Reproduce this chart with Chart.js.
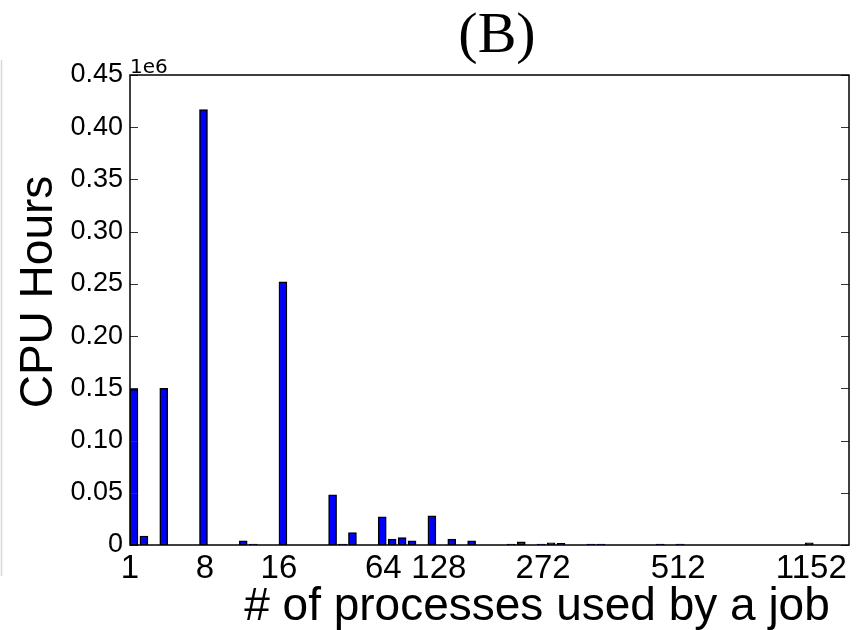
<!DOCTYPE html>
<html>
<head>
<meta charset="utf-8">
<script src="https://cdn.jsdelivr.net/npm/chart.js@4.4.0/dist/chart.umd.min.js"></script>
<style>
  html, body { margin: 0; padding: 0; background: #fff; }
  #wrap { width: 864px; height: 630px; position: relative; }
</style>
</head>
<body>
<div id="wrap"><canvas id="cpu-chart" width="864" height="630"></canvas></div>
<script>
// slot index of each bar along the x axis (one slot per distinct process count)
const barSlots = [0, 1, 3, 7, 11, 12, 15, 20, 21, 22, 25, 26, 27, 28, 30, 32, 34, 38, 39, 41, 42, 43, 46, 47, 53, 55, 68];
// CPU hours, in units of 1e6
const cpuHours = [0.149, 0.0086, 0.150, 0.417, 0.004, 0.001, 0.252, 0.048, 0.001, 0.012, 0.027, 0.0057, 0.007, 0.004, 0.028, 0.0057, 0.004, 0.001, 0.003, 0.001, 0.002, 0.0015, 0.0008, 0.0008, 0.0008, 0.0008, 0.002];

// x tick labels and where they sit (in slot units)
const xTickLabels = ['1', '8', '16', '64', '128', '272', '512', '1152'];
const xTickSlots = [0, 7.55, 15.0, 25.5, 31.1, 41.6, 55.2, 68.6];

const yMax = 0.45e6;
const yStep = 0.05e6;

// frame, inward tick marks and the free-placed texts
const framePlugin = {
    id: 'frame',
    afterDraw(chart) {
        const { ctx, chartArea: a, scales } = chart;
        ctx.save();

        // thin grey edge on the far left of the figure
        ctx.strokeStyle = '#d8d8d8';
        ctx.lineWidth = 1.5;
        ctx.beginPath();
        ctx.moveTo(1.5, 60);
        ctx.lineTo(1.5, 576);
        ctx.stroke();

        // y tick marks, pointing inside on both sides
        ctx.strokeStyle = '#333';
        ctx.lineWidth = 1;
        scales.y.ticks.forEach(t => {
            const py = Math.round(scales.y.getPixelForValue(t.value)) + 0.5;
            ctx.beginPath();
            ctx.moveTo(a.left, py);
            ctx.lineTo(a.left + 8, py);
            ctx.moveTo(a.right, py);
            ctx.lineTo(a.right - 8, py);
            ctx.stroke();
        });

        // box round the plot
        ctx.strokeStyle = '#000';
        ctx.lineWidth = 1.5;
        ctx.strokeRect(a.left, a.top, a.right - a.left, a.bottom - a.top);

        // offset text
        ctx.fillStyle = '#000';
        ctx.font = '20px "DejaVu Sans"';
        ctx.textAlign = 'left';
        ctx.textBaseline = 'alphabetic';
        ctx.fillText('1e6', a.left, a.top - 2);

        // title
        ctx.font = '58px "Liberation Serif"';
        ctx.textAlign = 'center';
        ctx.fillText('(B)', 497, 52);

        // x axis title
        ctx.font = '46px "Liberation Sans"';
        ctx.fillText('# of processes used by a job', 537, 620);

        // y axis title
        ctx.translate(52, 292);
        ctx.rotate(-Math.PI / 2);
        ctx.font = '46px "Liberation Sans"';
        ctx.fillText('CPU Hours', 0, 0);

        ctx.restore();
    }
};

const ctx = document.getElementById('cpu-chart').getContext('2d');
new Chart(ctx, {
    type: 'bar',
    data: {
        datasets: [{
            data: barSlots.map((s, i) => ({ x: s + 0.4, y: cpuHours[i] * 1e6 })),
            backgroundColor: '#0000ff',
            borderColor: '#000',
            borderWidth: 1.5,
            borderSkipped: false,
            barThickness: 8
        }]
    },
    options: {
        responsive: false,
        animation: false,
        layout: { padding: { top: 75, right: 15, left: 0, bottom: 0 } },
        plugins: {
            legend: { display: false },
            tooltip: { enabled: false }
        },
        scales: {
            x: {
                type: 'linear',
                min: 0,
                max: 72.4,
                offset: false,
                grid: { display: false },
                border: { display: false },
                afterBuildTicks: axis => {
                    axis.ticks = xTickSlots.map(v => ({ value: v }));
                },
                afterFit: scale => { scale.height = 85; },
                ticks: {
                    autoSkip: false,
                    maxRotation: 0,
                    padding: -4,
                    color: '#000',
                    font: { family: 'Liberation Sans', size: 33 },
                    callback: (v, i) => xTickLabels[i]
                }
            },
            y: {
                min: 0,
                max: yMax,
                grid: { display: false },
                border: { display: false },
                afterFit: scale => { scale.width = 130; },
                ticks: {
                    stepSize: yStep,
                    padding: -1,
                    color: '#000',
                    font: { family: 'Liberation Sans', size: 27 },
                    callback: v => v === 0 ? '0' : (v / 1e6).toFixed(2)
                }
            }
        }
    },
    plugins: [framePlugin]
});
</script>
</body>
</html>
